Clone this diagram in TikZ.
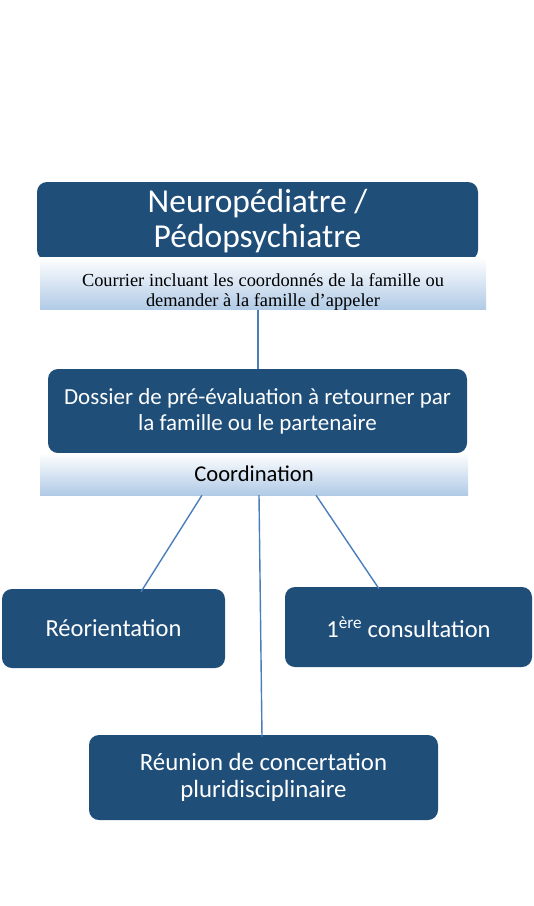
\documentclass[tikz,border=0pt]{standalone}
\usepackage{fontspec}
\setmainfont{Carlito}
\newfontfamily\timesfont{Liberation Serif}
\definecolor{boxblue}{HTML}{1F4E79}
\definecolor{bandblue}{RGB}{176,202,230}
\definecolor{linkblue}{RGB}{74,126,187}
\tikzset{
  box/.style={fill=boxblue, rounded corners=10pt, text=white, align=center, inner sep=0pt},
  band/.style={top color=white, bottom color=bandblue, align=center, inner sep=0pt},
  link/.style={draw=linkblue, line width=1.4pt}
}
\begin{document}
\begin{tikzpicture}[x=1pt, y=-1pt]
	\useasboundingbox (0,0) rectangle (534,906);
	
	% Top of the chain
	\node[box, minimum width=441, minimum height=78, font=\fontsize{33.5}{35}\selectfont] (neuro) at (257.5,221) {Neuropédiatre /\\Pédopsychiatre};
	\node[band, minimum width=446, minimum height=49, font=\timesfont\fontsize{18.4}{20}\selectfont] (courrier) at (263,283.5)
		{\rule{0pt}{29pt}\makebox[362pt][s]{Courrier incluant les coordonnés de la famille ou}\\demander à la famille d’appeler};
	
	% Pre-evaluation
	\node[box, minimum width=419, minimum height=84, font=\fontsize{23}{26}\selectfont] (dossier) at (257.5,411) {Dossier de pré-évaluation à retourner par\\la famille ou le partenaire};
	\node[band, minimum width=428, minimum height=42, font=\fontsize{22.6}{26}\selectfont] (coord) at (254,474) {Coordination};
	
	% Outcomes
	\node[box, minimum width=223, minimum height=79, font=\fontsize{24.5}{27}\selectfont] (reo) at (113.5,628.5) {Réorientation};
	\node[box, minimum width=247, minimum height=80, font=\fontsize{24.5}{27}\selectfont] (consult) at (408.5,627) {1\textsuperscript{ère} consultation};
	\node[box, minimum width=349, minimum height=85, font=\fontsize{24.8}{27}\selectfont] (reunion) at (263.5,777.5) {Réunion de concertation\\pluridisciplinaire};
	
	% Links
	\draw[link] ([xshift=-5]courrier.south) -- ([xshift=0.5]dossier.north);
	\draw[link] ([xshift=-52]coord.south) -- ([xshift=27.5, yshift=-3]reo.north);
	\draw[link] ([xshift=5]coord.south) -- ([xshift=-1.5, yshift=-2]reunion.north);
	\draw[link] ([xshift=62]coord.south) -- ([xshift=-29.5, yshift=-2]consult.north);
\end{tikzpicture}
\end{document}
